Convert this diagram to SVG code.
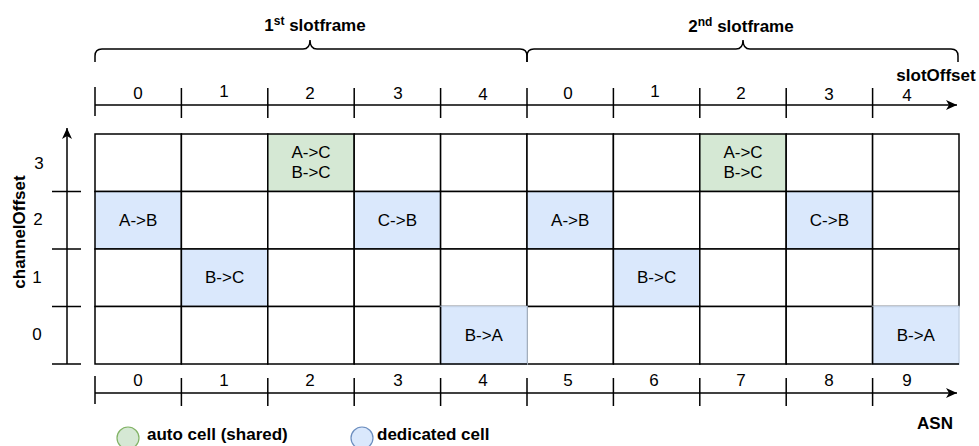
<svg xmlns="http://www.w3.org/2000/svg" width="979" height="446" viewBox="0 0 979 446">
<defs>
<marker id="arr" markerWidth="12" markerHeight="10" refX="11" refY="5" orient="auto" markerUnits="userSpaceOnUse">
<path d="M0,0 L11,5 L0,10 L3,5 Z" fill="#000"/>
</marker>
<style>
text{font-family:"Liberation Sans",Arial,sans-serif;font-size:17px;fill:#000}
.b{font-weight:bold}
.c{text-anchor:middle}
.ln{stroke:#000;stroke-width:1.5;fill:none}
.cell{stroke:#000;stroke-width:1.5;fill:#fff}
.g{fill:#d5e8d4}
.bl{fill:#dae8fc}
.lt{stroke:#c5d3e6}
</style>
</defs>
<rect width="979" height="446" fill="#fff"/>

<g id="titles">
<text class="b c" x="315" y="31">1<tspan font-size="12" dy="-6">st</tspan><tspan dy="6"> slotframe</tspan></text>
<text class="b c" x="741" y="32">2<tspan font-size="12" dy="-6">nd</tspan><tspan dy="6"> slotframe</tspan></text>
</g>

<g id="braces">
<path class="ln" d="M95,62 L95,56 Q95,49 102,49 L303,49 Q310,49 310,40 Q310,49 317,49 L520,49 Q527,49 527,56 L527,62"/>
<path class="ln" d="M527,62 L527,56 Q527,49 534,49 L736,49 Q743,49 743,40 Q743,49 750,49 L951,49 Q958,49 958,56 L958,62"/>
</g>

<g id="grid">
<rect class="cell" x="95" y="134" width="86.4" height="57.5"/>
<rect class="cell" x="181.4" y="134" width="86.4" height="57.5"/>
<rect class="cell g" x="267.8" y="134" width="86.4" height="57.5"/>
<rect class="cell" x="354.2" y="134" width="86.4" height="57.5"/>
<rect class="cell" x="440.6" y="134" width="86.4" height="57.5"/>
<rect class="cell" x="527" y="134" width="86.4" height="57.5"/>
<rect class="cell" x="613.4" y="134" width="86.4" height="57.5"/>
<rect class="cell g" x="699.8" y="134" width="86.4" height="57.5"/>
<rect class="cell" x="786.2" y="134" width="86.4" height="57.5"/>
<rect class="cell" x="872.6" y="134" width="86.4" height="57.5"/>

<rect class="cell bl" x="95" y="191.5" width="86.4" height="57.5"/>
<rect class="cell" x="181.4" y="191.5" width="86.4" height="57.5"/>
<rect class="cell" x="267.8" y="191.5" width="86.4" height="57.5"/>
<rect class="cell bl" x="354.2" y="191.5" width="86.4" height="57.5"/>
<rect class="cell" x="440.6" y="191.5" width="86.4" height="57.5"/>
<rect class="cell bl" x="527" y="191.5" width="86.4" height="57.5"/>
<rect class="cell" x="613.4" y="191.5" width="86.4" height="57.5"/>
<rect class="cell" x="699.8" y="191.5" width="86.4" height="57.5"/>
<rect class="cell bl" x="786.2" y="191.5" width="86.4" height="57.5"/>
<rect class="cell" x="872.6" y="191.5" width="86.4" height="57.5"/>

<rect class="cell" x="95" y="249" width="86.4" height="57.5"/>
<rect class="cell bl" x="181.4" y="249" width="86.4" height="57.5"/>
<rect class="cell" x="267.8" y="249" width="86.4" height="57.5"/>
<rect class="cell" x="354.2" y="249" width="86.4" height="57.5"/>
<rect class="cell" x="440.6" y="249" width="86.4" height="57.5"/>
<rect class="cell" x="527" y="249" width="86.4" height="57.5"/>
<rect class="cell bl" x="613.4" y="249" width="86.4" height="57.5"/>
<rect class="cell" x="699.8" y="249" width="86.4" height="57.5"/>
<rect class="cell" x="786.2" y="249" width="86.4" height="57.5"/>
<rect class="cell" x="872.6" y="249" width="86.4" height="57.5"/>

<rect class="cell" x="95" y="306.5" width="86.4" height="57.5"/>
<rect class="cell" x="181.4" y="306.5" width="86.4" height="57.5"/>
<rect class="cell" x="267.8" y="306.5" width="86.4" height="57.5"/>
<rect class="cell" x="354.2" y="306.5" width="86.4" height="57.5"/>
<rect class="cell" x="527" y="306.5" width="86.4" height="57.5"/>
<rect class="cell" x="613.4" y="306.5" width="86.4" height="57.5"/>
<rect class="cell" x="699.8" y="306.5" width="86.4" height="57.5"/>
<rect class="cell" x="786.2" y="306.5" width="86.4" height="57.5"/>
<rect class="cell bl lt" x="440.6" y="306.5" width="86.4" height="57.5"/>
<rect class="cell bl lt" x="872.6" y="306.5" width="86.4" height="57.5"/>
<path class="ln" d="M440.6,306.5 V364 H527 M872.6,306.5 V364 H959"/>
</g>

<g id="cell-labels">
<text class="c" x="311" y="158">A-&gt;C</text>
<text class="c" x="311" y="178">B-&gt;C</text>
<text class="c" x="743" y="158">A-&gt;C</text>
<text class="c" x="743" y="178">B-&gt;C</text>
<text class="c" x="138.2" y="226">A-&gt;B</text>
<text class="c" x="397.4" y="226">C-&gt;B</text>
<text class="c" x="570.2" y="226">A-&gt;B</text>
<text class="c" x="829.4" y="226">C-&gt;B</text>
<text class="c" x="224.6" y="283">B-&gt;C</text>
<text class="c" x="656.6" y="283">B-&gt;C</text>
<text class="c" x="483.8" y="341">B-&gt;A</text>
<text class="c" x="915.8" y="341">B-&gt;A</text>
</g>

<g id="connectors">
<line class="ln" x1="95" y1="105" x2="957" y2="105" marker-end="url(#arr)"/>
<path class="ln" d="M95,87 V116 M181.4,88 V118 M267.8,88 V118 M354.2,88 V118 M440.6,88 V118 M527,88 V118 M613.4,88 V118 M699.8,88 V118 M786.2,88 V118 M872.6,88 V118"/>
<line class="ln" x1="95" y1="393" x2="957" y2="393" marker-end="url(#arr)"/>
<path class="ln" d="M95,376 V404 M181.4,378 V406 M267.8,378 V406 M354.2,378 V406 M440.6,378 V406 M527,378 V406 M613.4,378 V406 M699.8,378 V406 M786.2,378 V406 M872.6,378 V406"/>
<line class="ln" x1="67" y1="364" x2="67" y2="128" marker-end="url(#arr)"/>
<path class="ln" d="M52,191.5 H81 M52,249 H81 M52,306.5 H81 M52,364 H81"/>
</g>

<g id="slotOffset-axis">
<text class="c" x="138" y="99">0</text>
<text class="c" x="224" y="97">1</text>
<text class="c" x="310" y="99">2</text>
<text class="c" x="398" y="99">3</text>
<text class="c" x="483" y="100">4</text>
<text class="c" x="568" y="99">0</text>
<text class="c" x="655" y="97">1</text>
<text class="c" x="741" y="99">2</text>
<text class="c" x="829" y="100">3</text>
<text class="c" x="907" y="101">4</text>
<text class="b c" x="936" y="81">slotOffset</text>
</g>

<g id="asn-axis">
<text class="c" x="138" y="386">0</text>
<text class="c" x="224" y="386">1</text>
<text class="c" x="310" y="386">2</text>
<text class="c" x="398" y="386">3</text>
<text class="c" x="483" y="386">4</text>
<text class="c" x="568" y="386">5</text>
<text class="c" x="654" y="386">6</text>
<text class="c" x="741" y="386">7</text>
<text class="c" x="829" y="386">8</text>
<text class="c" x="907" y="386">9</text>
<text class="b c" x="935" y="429">ASN</text>
</g>

<g id="channelOffset-axis">
<text class="c" x="39" y="169">3</text>
<text class="c" x="38" y="225">2</text>
<text class="c" x="37" y="283">1</text>
<text class="c" x="37" y="340">0</text>
<text class="b c" transform="translate(25,232) rotate(-90)">channelOffset</text>
</g>

<g id="legend-auto">
<circle cx="128" cy="438" r="11" fill="#d5e8d4" stroke="#82b366" stroke-width="1.2"/>
<text class="b" x="147" y="440">auto cell (shared)</text>
</g>
<g id="legend-dedicated">
<circle cx="362" cy="438" r="11" fill="#dae8fc" stroke="#6c8ebf" stroke-width="1.2"/>
<text class="b" x="377" y="440">dedicated cell</text>
</g>
</svg>
